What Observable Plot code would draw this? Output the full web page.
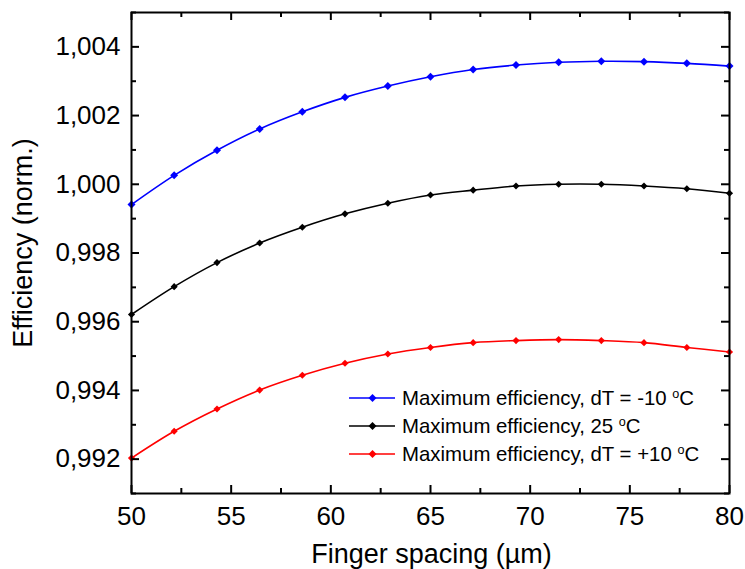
<!DOCTYPE html>
<html>
<head>
<meta charset="utf-8">
<script src="https://cdn.jsdelivr.net/npm/d3@7"></script>
<script src="https://cdn.jsdelivr.net/npm/@observablehq/plot@0.6"></script>
<style>
  html, body { margin: 0; padding: 0; background: #fff; }
  #wrap { position: relative; width: 745px; height: 569px; font-family: "Liberation Sans", Arial, sans-serif; }
  #legend { position: absolute; left: 349px; top: 384px; font-size: 20.4px; color: #000; }
  .row { display: flex; align-items: center; height: 28px; white-space: nowrap; }
  .row svg { display: block; margin-right: 7px; }
  .sup { font-size: 0.62em; position: relative; top: -0.55em; }
</style>
</head>
<body>
<div id="wrap"></div>
<script>
// Finger spacing (µm)
const spacing = [50, 52.14, 54.29, 56.43, 58.57, 60.71, 62.86, 65, 67.14, 69.29, 71.43, 73.57, 75.71, 77.86, 80];
// Normalised efficiency, three temperatures
const effMinus10 = [0.99941, 1.00026, 1.00099, 1.00161, 1.00211, 1.00253, 1.00286, 1.00313, 1.00334, 1.00347, 1.00355, 1.00358, 1.00357, 1.00352, 1.00344];
const eff25 = [0.99621, 0.99702, 0.99772, 0.99829, 0.99875, 0.99914, 0.99945, 0.99969, 0.99983, 0.99995, 1.00000, 1.00000, 0.99995, 0.99987, 0.99974];
const effPlus10 = [0.99203, 0.99281, 0.99346, 0.99401, 0.99444, 0.99479, 0.99506, 0.99525, 0.99539, 0.99545, 0.99548, 0.99545, 0.99539, 0.99525, 0.99512];

const seriesNames = ["Maximum efficiency, dT = -10 ", "Maximum efficiency, 25 ", "Maximum efficiency, dT = +10 "];
const seriesColors = ["#0000ff", "#000000", "#ff0000"];
const seriesValues = [effMinus10, eff25, effPlus10];
const markerR = [3.6, 3.2, 3.2];

const xTicks = [50, 55, 60, 65, 70, 75, 80];
const xMinor = [52.5, 57.5, 62.5, 67.5, 72.5, 77.5];
const yTicks = [0.992, 0.994, 0.996, 0.998, 1.000, 1.002, 1.004];
const yMinor = [0.991, 0.993, 0.995, 0.997, 0.999, 1.001, 1.003, 1.005];
const xLabel = "Finger spacing (µm)";
const yLabel = "Efficiency (norm.)";

const W = 745, H = 569;
const mL = 131, mR = 16, mT = 12, mB = 76;
const fw = W - mL - mR, fh = H - mT - mB;

const table = [];
seriesValues.forEach((vals, s) => vals.forEach((v, i) => table.push({x: spacing[i], y: v, s})));

const marks = [];
seriesValues.forEach((vals, s) => {
  const d = table.filter(r => r.s === s);
  marks.push(Plot.line(d, {x: "x", y: "y", stroke: seriesColors[s], strokeWidth: 1.6, curve: "catmull-rom"}));
  marks.push(Plot.dot(d, {x: "x", y: "y", fill: seriesColors[s], symbol: "diamond2", r: markerR[s], stroke: "none"}));
});

const chart = Plot.plot({
  width: W, height: H,
  marginLeft: mL, marginRight: mR, marginTop: mT, marginBottom: mB,
  style: {fontFamily: "Liberation Sans, Arial, sans-serif", fontSize: "26px", color: "#000", background: "#fff"},
  x: {domain: [50, 80]},
  y: {domain: [0.991, 1.005]},
  marks: [
    ...marks,
    // inward ticks, all four sides
    Plot.tickX(xTicks, {insetTop: fh - 8, strokeWidth: 2}),
    Plot.tickX(xTicks, {insetBottom: fh - 8, strokeWidth: 2}),
    Plot.tickX(xMinor, {insetTop: fh - 5, strokeWidth: 2}),
    Plot.tickX(xMinor, {insetBottom: fh - 5, strokeWidth: 2}),
    Plot.tickY(yTicks, {insetRight: fw - 8, strokeWidth: 2}),
    Plot.tickY(yTicks, {insetLeft: fw - 8, strokeWidth: 2}),
    Plot.tickY(yMinor, {insetRight: fw - 5, strokeWidth: 2}),
    Plot.tickY(yMinor, {insetLeft: fw - 5, strokeWidth: 2}),
    Plot.axisX({ticks: xTicks, tickSize: 0, tickPadding: 13, label: null, tickFormat: d => String(d)}),
    Plot.axisY({ticks: yTicks, tickSize: 0, tickPadding: 11, label: null, tickFormat: d => d.toFixed(3).replace(".", ",")}),
    Plot.frame({stroke: "#000", strokeWidth: 2}),
    Plot.text([xLabel], {text: d => d, frameAnchor: "bottom", textAnchor: "middle", dx: 1, dy: 61, fontSize: 27, lineAnchor: "middle"}),
    Plot.text([yLabel], {text: d => d, frameAnchor: "left", textAnchor: "middle", dx: -108, dy: -10, rotate: -90, fontSize: 27, lineAnchor: "middle"})
  ]
});

const wrap = document.getElementById("wrap");
wrap.appendChild(chart);

// Legend (overlaid inside plot area)
const legend = document.createElement("div");
legend.id = "legend";
seriesNames.forEach((name, s) => {
  const row = document.createElement("div");
  row.className = "row";
  const c = seriesColors[s];
  row.innerHTML =
    `<svg width="46" height="28"><line x1="0" x2="46" y1="14" y2="14" stroke="${c}" stroke-width="1.6"/>` +
    `<path d="M23.5,10 L27.5,14 L23.5,18 L19.5,14 Z" fill="${c}"/></svg>` +
    `<span>${name}<span class="sup">o</span>C</span>`;
  legend.appendChild(row);
});
wrap.appendChild(legend);
</script>
</body>
</html>
